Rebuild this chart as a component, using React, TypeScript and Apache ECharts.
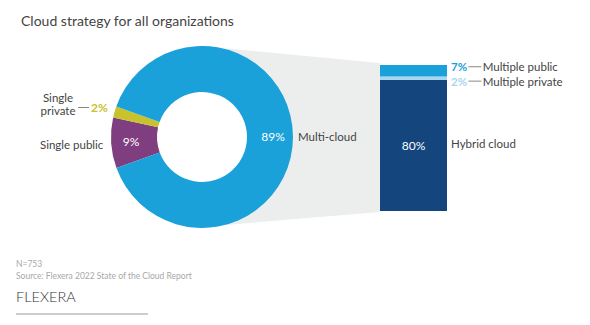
import React, { useEffect, useRef } from "react";
import * as echarts from "echarts";

const title = "Cloud strategy for all organizations";
const pieNames = ["Single public", "Single private", "Multi-cloud"];
const pieValues = [9, 2, 89];
const pieColors = ["#7e3e7f", "#c8c22d", "#1aa1da"];
const barNames = ["Hybrid cloud", "Multiple private", "Multiple public"];
const barValues = [80, 2, 7];
const barColors = ["#14457c", "#a6d7ef", "#1aa1da"];
const footNotes = ["N=753", "Source: Flexera 2022 State of the Cloud Report"];
const brand = "FLEXERA";

const FONT = "Lato, 'Noto Sans', sans-serif";
const TEXT = "#444444";

export default function App() {
  const ref = useRef<HTMLDivElement>(null);
  useEffect(() => {
    if (!ref.current) return;
    const chart = echarts.init(ref.current, null, { renderer: "svg" });
    const total = barValues.reduce((a, b) => a + b, 0);
    const barSeries = barValues.map((v, i) => {
      const base: any = {
        type: "bar",
        name: barNames[i],
        stack: "s",
        barWidth: "100%",
        data: [v],
        itemStyle: { color: barColors[i] },
        silent: true,
      };
      if (i === 0) {
        base.label = {
          show: true,
          position: "inside",
          formatter: v + "%",
          color: "#ffffff",
          fontSize: 12,
          fontFamily: FONT,
        };
      } else {
        base.label = {
          show: true,
          position: "right",
          distance: 4,
          offset: i === 2 ? [0, -4] : [0, 3],
          lineHeight: 11,
          formatter: "{v|" + v + "%}{s| }{l| }{s| }{n|" + barNames[i] + "}",
          rich: {
            v: { color: barColors[i], fontWeight: "bold", fontSize: 11.5, lineHeight: 11, fontFamily: FONT },
            s: { fontSize: 5, lineHeight: 11, fontFamily: FONT },
            l: { width: 13, height: 1, backgroundColor: "#888888", fontSize: 4 },
            n: { color: TEXT, fontSize: 11.5, lineHeight: 11, fontFamily: FONT },
          },
        };
      }
      return base;
    });

    chart.setOption({
      animation: false,
      title: {
        text: title,
        left: 16,
        top: 8,
        textStyle: { color: TEXT, fontSize: 14, fontWeight: "normal", fontFamily: FONT },
      },
      grid: { left: 380, top: 65, width: 67, height: 146 },
      xAxis: { type: "category", data: ["Multi-cloud"], show: false },
      yAxis: { type: "value", min: 0, max: total, show: false },
      graphic: [
        {
          type: "polygon",
          z: 0,
          shape: { points: [[202, 46], [380, 63], [380, 212], [202, 227]] },
          style: { fill: "#eceeed" },
        },
        {
          type: "circle",
          z: 0,
          shape: { cx: 202, cy: 137, r: 46 },
          style: { fill: "#ffffff" },
        },
        {
          type: "text",
          left: 451,
          top: 137,
          style: { text: barNames[0], fill: TEXT, fontSize: 11.5, fontFamily: FONT },
        },
        {
          type: "text",
          left: 298,
          top: 130,
          style: { text: pieNames[2], fill: TEXT, fontSize: 11.5, fontFamily: FONT },
        },
        {
          type: "text",
          left: 40,
          top: 138,
          style: { text: pieNames[0], fill: TEXT, fontSize: 11.5, fontFamily: FONT },
        },
        {
          type: "text",
          x: 58,
          y: 91,
          style: {
            text: "Single\nprivate",
            fill: TEXT,
            fontSize: 11.5,
            lineHeight: 13,
            align: "center",
            fontFamily: FONT,
          },
        },
        {
          type: "line",
          shape: { x1: 78, y1: 107.5, x2: 89, y2: 107.5 },
          style: { stroke: "#888888", lineWidth: 1 },
        },
        {
          type: "text",
          left: 91,
          top: 101,
          style: {
            text: pieValues[1] + "%",
            fill: pieColors[1],
            fontSize: 12,
            fontWeight: "bold",
            fontFamily: FONT,
          },
        },
        {
          type: "text",
          left: 16,
          top: 259,
          style: { text: footNotes[0], fill: "#a8a8a8", fontSize: 8.5, fontFamily: FONT },
        },
        {
          type: "text",
          left: 16,
          top: 271,
          style: { text: footNotes[1], fill: "#a8a8a8", fontSize: 8.5, fontFamily: FONT },
        },
        {
          type: "text",
          left: 16,
          top: 289,
          style: { text: brand, fill: "#333333", fontSize: 14.5, fontWeight: 300, fontFamily: FONT },
        },
        {
          type: "line",
          shape: { x1: 16, y1: 314, x2: 148, y2: 314 },
          style: { stroke: "#bbbbbb", lineWidth: 1.5 },
        },
      ],
      series: [
        {
          type: "pie",
          center: [202, 137],
          radius: [45, 91],
          startAngle: 200,
          clockwise: true,
          silent: true,
          z: 3,
          itemStyle: { borderWidth: 0 },
          labelLine: { show: false },
          data: pieNames.map((n, i) => ({
            name: n,
            value: pieValues[i],
            itemStyle: { color: pieColors[i] },
            label: {
              show: i !== 1,
              position: "inside",
              formatter: pieValues[i] + "%",
              color: "#ffffff",
              fontSize: 12,
              fontFamily: FONT,
            },
          })),
        },
        ...barSeries,
      ],
    });
    return () => chart.dispose();
  }, []);
  return (
    <div
      ref={ref}
      style={{ position: "absolute", left: 0, top: 0, width: 590, height: 325, background: "#fff" }}
    />
  );
}
